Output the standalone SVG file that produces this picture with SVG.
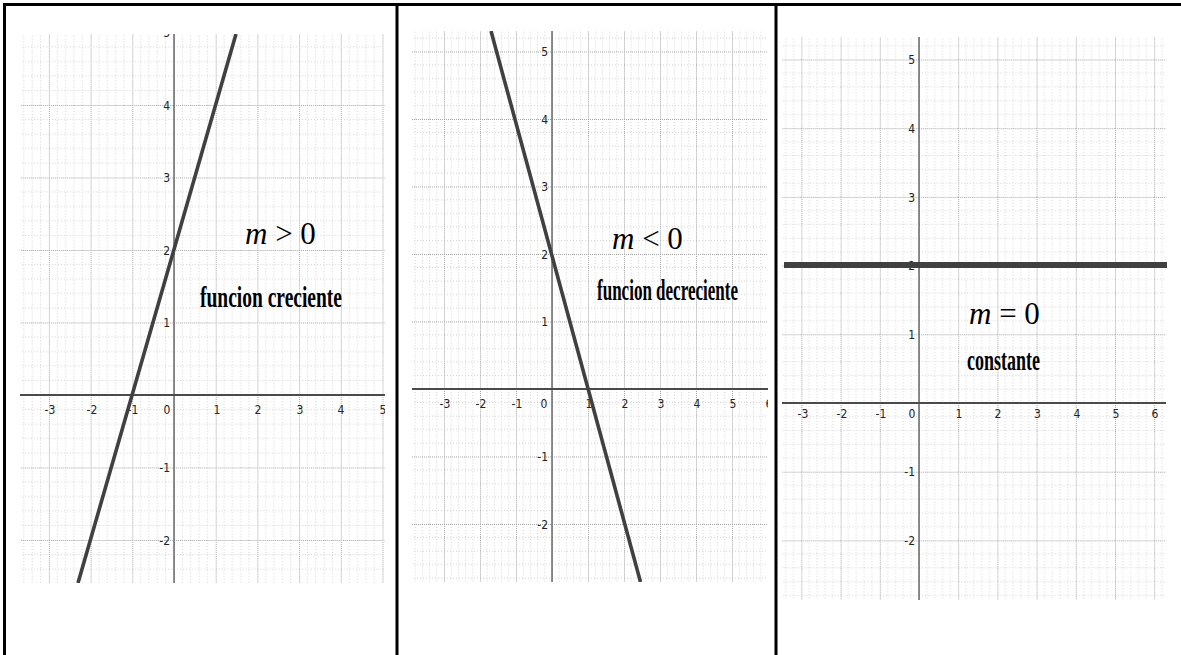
<svg xmlns="http://www.w3.org/2000/svg" width="1181" height="655" viewBox="0 0 1181 655">
<style>
.minor{fill:none;stroke:#d2d2d2;stroke-width:1;stroke-dasharray:1 2}
.major{fill:none;stroke:#a6a6a6;stroke-width:1;stroke-dasharray:1 1}
.yax{stroke:#6a6a6a;stroke-width:1.5}
.xax{stroke:#4a4a4a;stroke-width:2.2}
.fn{stroke:#404040;stroke-width:3.6;stroke-linecap:butt}
.tk{font-family:"DejaVu Sans Condensed","DejaVu Sans",sans-serif;font-size:12px;fill:#222}
.xl{text-anchor:middle}
.yl{text-anchor:end}
.m{font-family:"Liberation Serif",serif;font-size:31px;fill:#000}
.lbl{font-family:"Liberation Serif",serif;font-weight:bold;font-size:30px;fill:#000}
.border{stroke:#000;stroke-width:3;fill:none}
</style>
<defs>
<pattern id="g1" patternUnits="userSpaceOnUse" x="174" y="395" width="41.7" height="72.5">
<path class="minor" d="M8.34 0V72.5M16.68 0V72.5M25.02 0V72.5M33.36 0V72.5M0 14.5H41.7M0 29H41.7M0 43.5H41.7M0 58H41.7"/>
<path class="major" d="M0.5 0V72.5M0 0.5H41.7"/>
</pattern>
<pattern id="g2" patternUnits="userSpaceOnUse" x="552" y="389" width="36" height="67.5">
<path class="minor" d="M7.2 0V67.5M14.4 0V67.5M21.6 0V67.5M28.8 0V67.5M0 13.5H36M0 27H36M0 40.5H36M0 54H36"/>
<path class="major" d="M0.5 0V67.5M0 0.5H36"/>
</pattern>
<pattern id="g3" patternUnits="userSpaceOnUse" x="919" y="403" width="39.2" height="68.7">
<path class="minor" d="M7.84 0V68.7M15.68 0V68.7M23.52 0V68.7M31.36 0V68.7M0 13.74H39.2M0 27.48H39.2M0 41.22H39.2M0 54.96H39.2"/>
<path class="major" d="M0.5 0V68.7M0 0.5H39.2"/>
</pattern>
<clipPath id="c1"><rect x="20" y="34" width="365" height="549"/></clipPath>
<clipPath id="c2"><rect x="412" y="31" width="356" height="551"/></clipPath>
<clipPath id="c3"><rect x="782" y="37" width="386" height="563"/></clipPath>
</defs>
<rect width="1181" height="655" fill="#fff"/>

<g id="panel1">
<rect x="20" y="34" width="365" height="549" fill="url(#g1)"/>
<g clip-path="url(#c1)">
<line class="yax" x1="174" y1="34" x2="174" y2="583"/>
<line class="xax" x1="20" y1="395" x2="385" y2="395"/>
<g class="tk xl">
<text x="50" y="414">-3</text><text x="92" y="414">-2</text><text x="133" y="414">-1</text><text x="167" y="414">0</text>
<text x="217" y="414">1</text><text x="258" y="414">2</text><text x="300" y="414">3</text><text x="341" y="414">4</text><text x="383" y="414">5</text>
</g>
<g class="tk yl">
<text x="170" y="37">5</text><text x="170" y="109.5">4</text><text x="170" y="182">3</text><text x="170" y="254.5">2</text><text x="170" y="327">1</text>
<text x="170" y="472">-1</text><text x="170" y="544.5">-2</text>
</g>
<line class="fn" x1="236" y1="34" x2="78" y2="583"/>
</g>
<text class="m" x="245" y="244"><tspan font-style="italic">m</tspan> &gt; 0</text>
<text class="lbl" x="200" y="307" textLength="142" lengthAdjust="spacingAndGlyphs">funcion creciente</text>
</g>

<g id="panel2">
<rect x="412" y="31" width="356" height="551" fill="url(#g2)"/>
<g clip-path="url(#c2)">
<line class="yax" x1="552" y1="31" x2="552" y2="582"/>
<line class="xax" x1="412" y1="389" x2="768" y2="389"/>
<g class="tk xl">
<text x="445" y="408">-3</text><text x="481" y="408">-2</text><text x="517" y="408">-1</text><text x="544" y="408">0</text>
<text x="589" y="408">1</text><text x="625" y="408">2</text><text x="661" y="408">3</text><text x="697" y="408">4</text><text x="733" y="408">5</text><text x="769" y="408">6</text>
</g>
<g class="tk yl">
<text x="548" y="56">5</text><text x="548" y="123.5">4</text><text x="548" y="191">3</text><text x="548" y="258.5">2</text><text x="548" y="326">1</text>
<text x="548" y="461">-1</text><text x="548" y="528.5">-2</text>
</g>
<line class="fn" x1="491" y1="31" x2="640.5" y2="582"/>
</g>
<text class="m" x="612" y="249"><tspan font-style="italic">m</tspan> &lt; 0</text>
<text class="lbl" x="597" y="300" textLength="141" lengthAdjust="spacingAndGlyphs">funcion decreciente</text>
</g>

<g id="panel3">
<rect x="782" y="37" width="384" height="563" fill="url(#g3)"/>
<g clip-path="url(#c3)">
<line class="yax" x1="919" y1="37" x2="919" y2="600"/>
<line class="xax" x1="782" y1="403" x2="1166" y2="403"/>
<g class="tk xl">
<text x="803" y="418">-3</text><text x="842" y="418">-2</text><text x="881" y="418">-1</text><text x="912" y="418">0</text>
<text x="959" y="418">1</text><text x="998" y="418">2</text><text x="1037.5" y="418">3</text><text x="1077" y="418">4</text><text x="1116" y="418">5</text><text x="1155" y="418">6</text>
</g>
<g class="tk yl">
<text x="915" y="64">5</text><text x="915" y="132.5">4</text><text x="915" y="201.5">3</text><text x="915" y="270">2</text><text x="915" y="338.5">1</text>
<text x="915" y="476">-1</text><text x="915" y="545">-2</text>
</g>
</g>
<line x1="784" y1="265" x2="1167" y2="265" stroke="#404040" stroke-width="6"/>
<text class="m" x="969" y="324"><tspan font-style="italic">m</tspan> = 0</text>
<text class="lbl" x="967" y="370" textLength="73" lengthAdjust="spacingAndGlyphs">constante</text>
</g>

<g id="connectors"></g>

<g id="table">
<path class="border" d="M3 4.5H1181M4.5 3V655M397 3V655M776 3V655"/>
</g>
</svg>
